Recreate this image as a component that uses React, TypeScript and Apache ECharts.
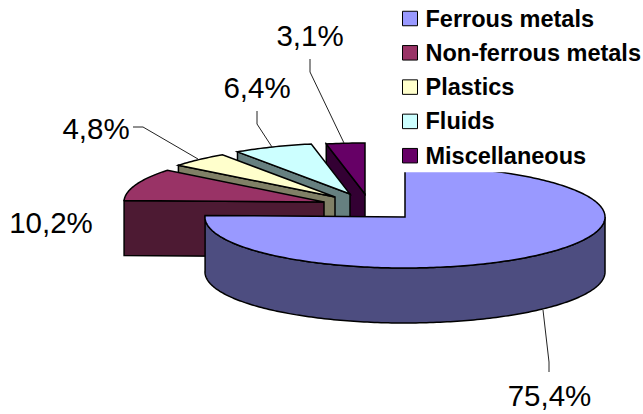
import React, { useEffect, useRef } from "react";
import * as echarts from "echarts";

// Shares of a scrapped vehicle's material, in percent.
const categories = ["Ferrous metals", "Non-ferrous metals", "Plastics", "Fluids", "Miscellaneous"];
const shares = [75.4, 10.2, 4.8, 6.4, 3.1];
const shareLabels = ["75,4%", "10,2%", "4,8%", "6,4%", "3,1%"];

const topColors = ["#9999ff", "#993366", "#ffffcc", "#ccffff", "#660066"];
const wallColors = ["#4d4d80", "#4d1a33", "#808066", "#668080", "#330033"];

// Apex of each wedge on the page (the small wedges are pulled out of the disc).
const apexX = [405, 324, 335, 350, 365];
const apexY = [217, 202, 197, 194, 194];
const labelX = [549.5, 51, 96, 257, 310];
const labelY = [395, 222, 128, 87, 35];
const leaderLines: number[][][] = [
  [[543, 310], [549, 362], [549, 372]],
  [],
  [[133, 127], [143, 127], [198, 159]],
  [[257, 111], [257, 124], [272, 147]],
  [[310, 59], [310, 72], [344, 143]],
];

const RADIUS_X = 200;
const RADIUS_Y = 51;
const DEPTH = 55;
const LINE = { stroke: "#000", lineWidth: 1.5, lineJoin: "miter" as const };
const total = shares.reduce((a, b) => a + b, 0);

const onRim = (i: number, deg: number, drop = 0): number[] => {
  const r = (deg * Math.PI) / 180;
  return [apexX[i] + RADIUS_X * Math.sin(r), apexY[i] - RADIUS_Y * Math.cos(r) + drop];
};

const arc = (i: number, from: number, to: number, drop = 0): number[][] => {
  const steps = Math.max(2, Math.ceil(Math.abs(to - from)));
  const pts: number[][] = [];
  for (let k = 0; k <= steps; k++) pts.push(onRim(i, from + ((to - from) * k) / steps, drop));
  return pts;
};

const wedge = (i: number) => (_params: unknown, api: any) => {
  const value = api.value(0) as number;
  const start = (shares.slice(0, i).reduce((a, b) => a + b, 0) / total) * 360;
  const end = start + (value / total) * 360;
  const apex = [apexX[i], apexY[i]];
  const children: any[] = [];

  if (i === 0) {
    // Outer wall of the large wedge, visible along the front half of the rim.
    const wall = [...arc(i, 90, end), ...arc(i, end, 90, DEPTH)];
    children.push({ type: "polygon", shape: { points: wall }, style: { fill: wallColors[i], ...LINE } });
  } else {
    // Cut face of a pulled-out wedge.
    const rim = onRim(i, start);
    const face = [apex, rim, [rim[0], rim[1] + DEPTH], [apex[0], apex[1] + DEPTH]];
    children.push({ type: "polygon", shape: { points: face }, style: { fill: wallColors[i], ...LINE } });
  }

  children.push({
    type: "polygon",
    shape: { points: [apex, ...arc(i, start, end)] },
    style: { fill: topColors[i], ...LINE },
  });

  if (leaderLines[i].length) {
    children.push({
      type: "polyline",
      shape: { points: leaderLines[i] },
      style: { fill: "none", stroke: "#222", lineWidth: 1 },
    });
  }
  children.push({
    type: "text",
    style: {
      x: labelX[i],
      y: labelY[i],
      text: shareLabels[i],
      fill: "#000",
      font: '29.5px "Liberation Sans", Arial, sans-serif',
      align: "center",
      verticalAlign: "middle",
    },
  });
  return { type: "group", children };
};

export default function App() {
  const ref = useRef<HTMLDivElement>(null);
  useEffect(() => {
    const chart = echarts.init(ref.current!, undefined, { renderer: "svg" });
    chart.setOption({
      animation: false,
      backgroundColor: "#fff",
      legend: {
        orient: "vertical",
        left: 398,
        top: 0,
        z: 20,
        backgroundColor: "#fff",
        padding: [6.5, 0, 4.5, 4],
        itemWidth: 15,
        itemHeight: 14.5,
        itemGap: 10.3,
        icon: "rect",
        selectedMode: false,
        itemStyle: { borderColor: "#000", borderWidth: 1 },
        textStyle: {
          fontFamily: '"Liberation Sans", Arial, sans-serif',
          fontWeight: "bold",
          fontSize: 23.5,
          color: "#000",
          padding: [0, 0, 0, 3],
        },
        data: categories,
      },
      series: categories.map((name, i) => ({
        type: "custom",
        name,
        coordinateSystem: "none",
        z: 10 - i,
        itemStyle: { color: topColors[i] },
        data: [[shares[i]]],
        renderItem: wedge(i),
      })),
    });
    return () => chart.dispose();
  }, []);
  return <div ref={ref} style={{ position: "absolute", left: 0, top: 0, width: 643, height: 414 }} />;
}
